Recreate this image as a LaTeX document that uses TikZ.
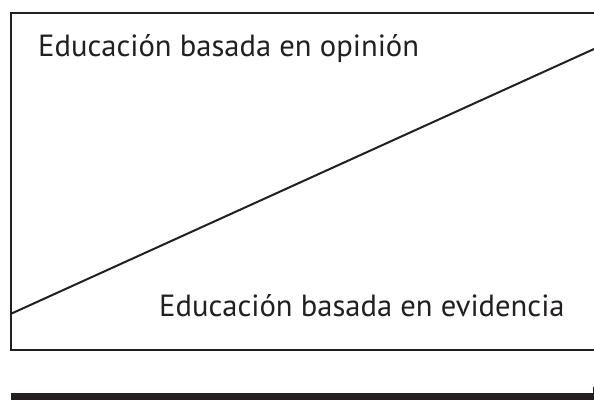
\documentclass[tikz,border=0pt]{standalone}
\usepackage{fontspec}
\setmainfont{PT Sans}
\usepackage{xcolor}
\definecolor{ink}{HTML}{231F20}

\tikzset{
  label text/.style={anchor=base west, inner sep=0pt, text=ink,
    font=\fontsize{30.6}{36}\selectfont},
  frame line/.style={draw=ink, line width=2pt}
}

\begin{document}
\begin{tikzpicture}[x=1pt,y=-1pt]
  \useasboundingbox (0,0) rectangle (594,399);
  \clip (0,0) rectangle (594,399);
  \draw[frame line] (604,12.5) -- (10.5,12.5) -- (10.5,349.5) -- (604,349.5);
  \coordinate (low) at (10.5,314);
  \coordinate (high) at (594,49);
  \draw[frame line] (low) -- (high);
  \node[label text] (opinion) at (38,56) {Educación basada en opinión};
  \node[label text] (evidencia) at (159,316) {Educación basada en evidencia};
  \fill[ink] (11,392.5) rectangle (594,405);
  \draw[ink, line width=1pt] (593,387) -- (593,393);
\end{tikzpicture}
\end{document}
